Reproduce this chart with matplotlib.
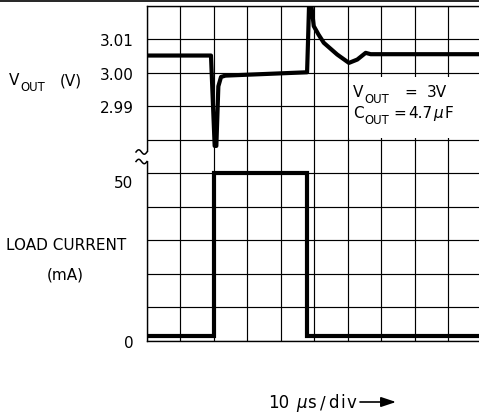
import numpy as np
import matplotlib
matplotlib.use("Agg")
import matplotlib.pyplot as plt
from matplotlib.patches import Rectangle, FancyArrowPatch
from matplotlib.lines import Line2D
from matplotlib.transforms import ScaledTranslation

# ---- data (time in divisions, 10 us/div) ----
t_vout = [0.0, 1.92, 2.03, 2.08, 2.14, 2.22, 2.35, 4.79, 4.82, 4.86, 4.92,
          4.99, 5.13, 5.29, 5.69, 6.04, 6.29, 6.54, 6.69, 10.0]
vout = [3.0052, 3.0052, 2.9782, 2.9782, 2.9960, 2.9988, 2.9992, 3.0002, 3.0100, 3.0240, 3.0200,
        3.0140, 3.0115, 3.0090, 3.0055, 3.0030, 3.0040, 3.0060, 3.0056, 3.0056]

t_load = [0.0, 2.01, 2.01, 4.79, 4.79, 10.0]
i_load = [1.5, 1.5, 50.0, 50.0, 1.5, 1.5]

v_ticks = [2.99, 3.00, 3.01]
v_ticklabels = ["2.99", "3.00", "3.01"]
i_ticks = [0, 50]
i_ticklabels = ["0", "50"]

W, H = 479, 414
fig = plt.figure(figsize=(W / 100, H / 100), dpi=100)
plt.rcParams['font.family'] = ['DejaVu Sans']
plt.rcParams['mathtext.default'] = 'regular'
FS = 11
SUB = 0.76 * FS

def px(x, y):
    return x / W, 1 - y / H

def put(x, y, s, fs=FS, **kw):
    return fig.text(x / W, 1 - y / H, s, fontsize=fs, va="baseline", ha="left", zorder=20, **kw)

# axes rect in pixels: left 146.7, right 481.5, top 7, bottom 341.7
L, R, T, B = 146.7, 481.5, 7.0, 341.7
rect = [L / W, 1 - B / H, (R - L) / W, (B - T) / H]

ax_i = fig.add_axes(rect)
ax_i.set_xlim(0, 10)
ax_i.set_ylim(0, 100)
ax_i.set_xticks(np.arange(0, 11, 1))
ax_i.set_yticks(np.arange(0, 101, 10))
ax_i.set_xticklabels([])
ylab = [""] * 11
for tk, lb in zip(i_ticks, i_ticklabels):
    ylab[int(tk // 10)] = lb
ax_i.set_yticklabels(ylab, fontsize=FS)
ax_i.tick_params(length=0, pad=9.5)
ax_i.grid(True, color="black", lw=0.85)
for s in ["left", "bottom", "top"]:
    ax_i.spines[s].set_linewidth(1.0)
ax_i.spines["right"].set_visible(False)
ax_i.plot(t_load, i_load, color="black", lw=3.0, solid_joinstyle="miter", zorder=5)
for tick in ax_i.yaxis.get_major_ticks():
    if abs(tick.get_loc() - 50) < 1e-6:
        tick.label1.set_transform(tick.label1.get_transform() +
                                  ScaledTranslation(0, -8 / 100, fig.dpi_scale_trans))

ax_v = fig.add_axes(rect, sharex=ax_i)
ax_v.patch.set_visible(False)
ax_v.set_ylim(2.92, 3.02)
ax_v.set_yticks(v_ticks)
ax_v.set_yticklabels(v_ticklabels, fontsize=FS)
ax_v.tick_params(length=0, pad=9.5, labelbottom=False)
for s in ax_v.spines.values():
    s.set_visible(False)
ax_v.plot(t_vout, vout, color="black", lw=3.0, zorder=5, solid_joinstyle="round")

# white box behind the annotation
bx0 = (349 - L) / (R - L)
by0 = 1 - (139 - T) / (B - T)
by1 = 1 - (78 - T) / (B - T)
ax_v.add_patch(Rectangle((bx0, by0), 1.2 - bx0, by1 - by0, transform=ax_v.transAxes,
                         facecolor="white", edgecolor="none", zorder=6, clip_on=False))

# annotation text (subscripts placed as separate smaller text)
put(353, 97, "V")
put(364, 103, "OUT", fs=SUB)
put(404, 97, "=")
put(427, 97, "3V")
put(353, 118, "C")
put(364, 124, "OUT", fs=SUB)
put(393, 118, "=")
put(408, 118, "4.7")
put(433, 118, r"$\mathit{\mu}$")
put(445, 118, "F")

# left labels
put(9, 85, "V")
put(20, 91, "OUT", fs=SUB)
put(60, 85, "(V)")
fig.text(*px(66, 250), "LOAD CURRENT", fontsize=FS, va="baseline", ha="center")
fig.text(*px(65, 279), "(mA)", fontsize=FS, va="baseline", ha="center")

# bottom label with arrow
FB = 12
put(268, 408.5, "10", fs=FB)
put(296, 408.5, r"$\mathit{\mu}$", fs=FB)
put(307.5, 408.5, "s", fs=FB)
put(319.5, 408.5, "/", fs=FB)
put(328.5, 408.5, "d", fs=FB)
put(340.5, 408.5, "i", fs=FB)
put(346.5, 408.5, "v", fs=FB)
fig.add_artist(FancyArrowPatch(px(360, 403), px(396, 403),
               transform=fig.transFigure, arrowstyle="-|>,head_length=0.9,head_width=0.3",
               mutation_scale=10, color="black", lw=1.2, shrinkA=0, shrinkB=0))

# top rule
fig.add_artist(Line2D([0, 1], [1 - 2 / H, 1 - 2 / H], transform=fig.transFigure, color="black", lw=1.2))

# axis break marks
fig.add_artist(Rectangle(px(144.5, 162), 4 / W, 9 / H, transform=fig.transFigure,
                         facecolor="white", edgecolor="none", zorder=10))
xs = np.linspace(136, 147, 40)
for yc in (153, 162.5):
    ys = yc - 2.2 * np.sin((xs - 136) / 11 * 2 * np.pi)
    fig.add_artist(Line2D(xs / W, 1 - ys / H, transform=fig.transFigure, color="black", lw=1.1, zorder=11))

fig.savefig("out.png", dpi=100)
